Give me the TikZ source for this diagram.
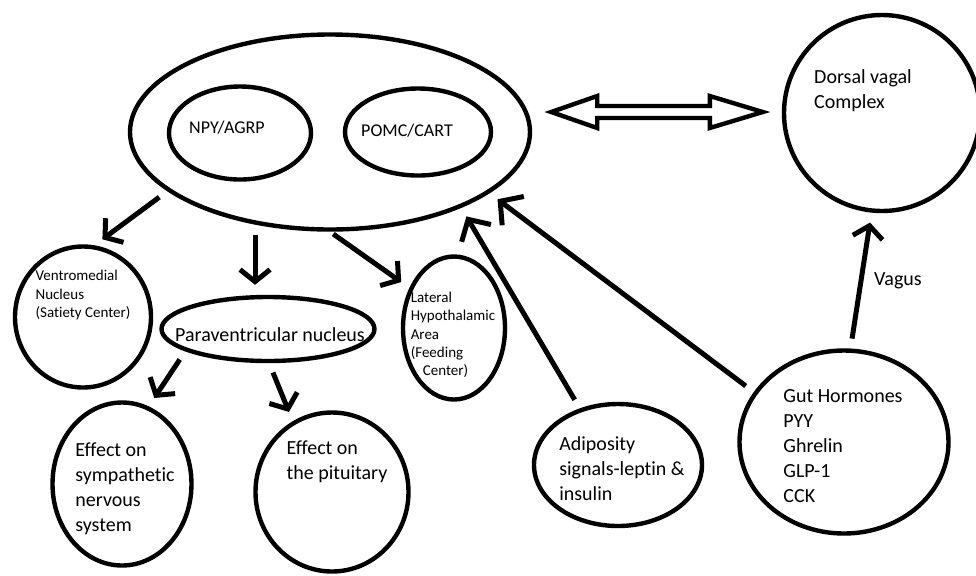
\documentclass[tikz,border=0pt]{standalone}
\usepackage{fontspec}
\setmainfont{Carlito}[Ligatures={NoCommon,NoRare,NoContextual}, Contextuals=NoAlternate]
\usetikzlibrary{arrows.meta, shapes.geometric}

\begin{document}
\begin{tikzpicture}[x=0.5pt, y=-0.5pt,
  blob/.style={draw, ellipse, line width=2.2pt, inner sep=0pt},
  lbl/.style={align=left, font=\fontsize{10}{12.5}\selectfont},
  lblmid/.style={align=left, font=\fontsize{9}{11}\selectfont},
  lblsmall/.style={align=left, font=\fontsize{7.5}{9.2}\selectfont},
  arrow/.style={-{Straight Barb[length=6pt, width=15pt]}, line width=2.5pt, shorten <=5pt, shorten >=5pt},
  outline/.style={line width=2.2pt}]

  \useasboundingbox (0,0) rectangle (976,575);

  % hypothalamus
  \node[blob, minimum width=200pt, minimum height=97.5pt] (hyp) at (330,132) {};
  \node[blob, minimum width=71pt, minimum height=46.5pt] (npy) at (240,133) {};
  \node[lblmid] (npy-t) at (227,128) {NPY/AGRP};
  \node[blob, minimum width=73pt, minimum height=43.5pt] (pomc) at (418,132) {};
  \node[lblmid] (pomc-t) at (407,131) {POMC/CART};

  \node[blob, minimum width=98pt, minimum height=98pt] (dvc) at (882,113) {};
  \node[lbl] (dvc-t) at (863,91) {Dorsal vagal\\Complex};

  % targets
  \node[blob, minimum width=68pt, minimum height=70.5pt] (vmn) at (83,317) {};
  \node[lblsmall] (vmn-t) at (83,295) {Ventromedial\\Nucleus\\(Satiety Center)};
  \node[blob, minimum width=106.5pt, minimum height=32pt] (pvn) at (268,329) {};
  \node[lbl] (pvn-t) at (270,335) {Paraventricular nucleus};
  \node[blob, minimum width=51pt, minimum height=71.5pt] (lha) at (454,328) {};
  \node[lblsmall] (lha-t) at (453,335) {Lateral\\Hypothalamic\\Area\\(Feeding\\\hspace*{6pt}Center)};

  \node[blob, minimum width=69.5pt, minimum height=81.5pt] (sym) at (122,484) {};
  \node[lbl] (sym-t) at (125,489) {Effect on\\sympathetic\\nervous\\system};
  \node[blob, minimum width=76.5pt, minimum height=79.5pt] (pit) at (332,492) {};
  \node[lbl] (pit-t) at (337,462) {Effect on\\the pituitary};

  % signals
  \node[blob, minimum width=84pt, minimum height=61pt] (adi) at (618,465) {};
  \node[lbl] (adi-t) at (622,469) {Adiposity\\signals-leptin \&\\insulin};
  \node[blob, minimum width=104.5pt, minimum height=91.5pt] (gut) at (844,442) {};
  \node[lbl] (gut-t) at (843,446) {Gut Hormones\\PYY\\Ghrelin\\GLP-1\\CCK};

  % two-way link
  \coordinate (linkl) at ([shift={(19,-20)}]hyp.east);
  \coordinate (linkr) at ([shift={(-19,-1)}]dvc.west);
  \draw[outline] (linkl) -- ++(46,-16) -- ++(0,10) -- ([shift={(-53,-6)}]linkr)
    -- ++(0,-10) -- (linkr) -- ([shift={(-53,16)}]linkr) -- ++(0,-10)
    -- ([shift={(46,6)}]linkl) -- ++(0,10) -- cycle;

  \draw[arrow] (hyp.200) -- (vmn.81);
  \draw[arrow] (hyp.231) -- (hyp.231 |- pvn.north);
  \draw[arrow, shorten <=2pt] (hyp.south) -- (lha.138);
  \draw[arrow] (pvn.195) -- (sym.71);
  \draw[arrow] (pvn.272) -- (pit.119);
  \draw[arrow, -{Straight Barb[length=8pt, width=17pt]}] (adi.124) -- (hyp.330);
  \draw[arrow, -{Straight Barb[length=8pt, width=18pt]}] (gut.151) -- (hyp.339);
  \draw[arrow] (gut.86) -- node[lbl, right=2pt] (vagus) {Vagus} (dvc.264);
\end{tikzpicture}
\end{document}
